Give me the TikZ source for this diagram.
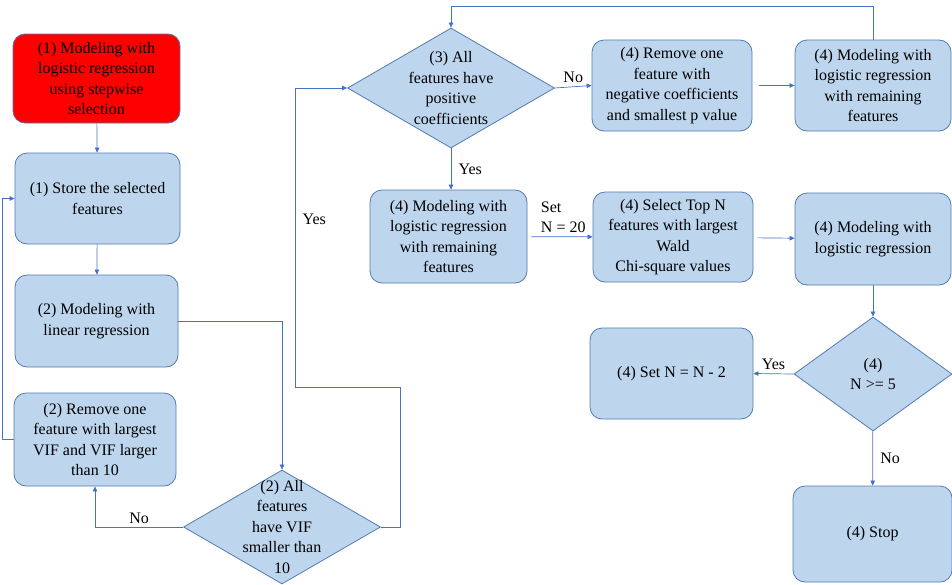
\documentclass[tikz,border=0pt]{standalone}
\usepackage{fontspec}
\setmainfont{Liberation Serif}
\usetikzlibrary{shapes.geometric, arrows.meta}
\definecolor{BoxBlue}{RGB}{189, 214, 238}
\definecolor{EdgeBlue}{RGB}{84, 122, 176}
\definecolor{FlowBlue}{RGB}{68, 114, 196}
\definecolor{StartRed}{RGB}{255, 0, 0}

\begin{document}
\begin{tikzpicture}[x=1pt, y=-1pt,
  every node/.style={font=\fontsize{16}{20.5}\selectfont},
  stepbox/.style={draw=EdgeBlue, line width=0.8pt, fill=BoxBlue, rounded corners=12pt, align=center, inner sep=0pt},
  decision/.style={draw=EdgeBlue, line width=0.8pt, fill=BoxBlue, diamond, inner sep=0pt},
  flow/.style={draw=FlowBlue, line width=0.7pt, -{Triangle[length=5pt, width=4.5pt]}}]
\useasboundingbox (0,0) rectangle (952,584);

\node[stepbox, fill=StartRed, minimum width=167pt, minimum height=89pt] (start) at (96.5,78.5) {(1) Modeling with\\logistic regression\\using stepwise\\selection};
\node[stepbox, minimum width=165pt, minimum height=91pt] (store) at (97.5,198.5) {(1) Store the selected\\features};
\node[stepbox, minimum width=163pt, minimum height=92pt] (linreg) at (96.5,321) {(2) Modeling with\\linear regression};
\node[stepbox, minimum width=162pt, minimum height=93pt] (vifrm) at (95,439.5) {(2) Remove one\\feature with largest\\VIF and VIF larger\\than 10};
\node[decision, minimum width=197pt, minimum height=114pt] (vifdec) at (282,527) {};
\node[align=center] (viftxt) at (vifdec) {(2) All\\features\\have VIF\\smaller than\\10};

\node[decision, minimum width=207pt, minimum height=120pt] (allpos) at (451,88) {};
\node[align=center] (allpostxt) at (allpos) {(3) All\\features have\\positive\\coefficients};
\node[stepbox, minimum width=160pt, minimum height=91pt] (rmneg) at (672,85.5) {(4) Remove one\\feature with\\negative coefficients\\and smallest p value};
\node[stepbox, minimum width=156pt, minimum height=91pt] (logrem) at (873,85.5) {(4) Modeling with\\logistic regression\\with remaining\\features};

\node[stepbox, minimum width=157pt, minimum height=93pt] (logremb) at (448.5,236.5) {(4) Modeling with\\logistic regression\\with remaining\\features};
\node[stepbox, minimum width=160pt, minimum height=90pt] (selectn) at (673,237) {(4) Select Top N\\features with largest\\Wald\\Chi-square values};
\node[stepbox, minimum width=156pt, minimum height=92pt] (logreg) at (873,239) {(4) Modeling with\\logistic regression};

\node[decision, minimum width=158pt, minimum height=114pt] (ndec) at (873,374) {};
\node[align=center] (ntxt) at (ndec) {(4)\\N >= 5};
\node[stepbox, minimum width=163pt, minimum height=91pt] (setn) at (671.5,373.5) {(4) Set N = N - 2};
\node[stepbox, minimum width=159pt, minimum height=96pt] (stop) at (872.5,534) {(4) Stop};

\coordinate (yesturn) at (400,387);
\coordinate (yesup) at (295,387);

\draw[flow] (start) -- (store);
\draw[flow] (store) -- (linreg);
\draw[flow] (linreg.east) -| (vifdec.north);
\draw[flow] (vifdec.west) -| (vifrm.south) node[pos=0.25, above] (nolbla) {No};
\draw[flow] (vifrm.west) -- ++(-11,0) |- (store.west);
\draw[flow] (vifdec.east) -| (yesturn) -- (yesup) |- (allpos.west) node[pos=0.28, right, xshift=4pt] (yeslbla) {Yes};

\draw[flow] (allpos.east) -- (rmneg.west) node[pos=0.5, above] (nolblb) {No};
\draw[flow, shorten <=7pt] (rmneg) -- (logrem);
\draw[flow] (logrem.north) -- ++(0,-33) -| (allpos.north);
\draw[flow] (allpos.south) -- (allpos.south |- logremb.north) node[pos=0.5, right, xshift=4pt] (yeslblb) {Yes};
\draw[flow, shorten <=4pt] (logremb) -- (selectn) node[pos=0.55, above, align=left] (setlbl) {Set\\N = 20};
\draw[flow, shorten <=4pt] (selectn) -- (logreg);
\draw[flow] (logreg) -- (ndec);
\draw[flow] (ndec.west) -- (setn.east) node[pos=0.5, above] (yeslblc) {Yes};
\draw[flow] (ndec) -- (stop) node[pos=0.5, right, xshift=4pt] (nolblc) {No};
\end{tikzpicture}
\end{document}
